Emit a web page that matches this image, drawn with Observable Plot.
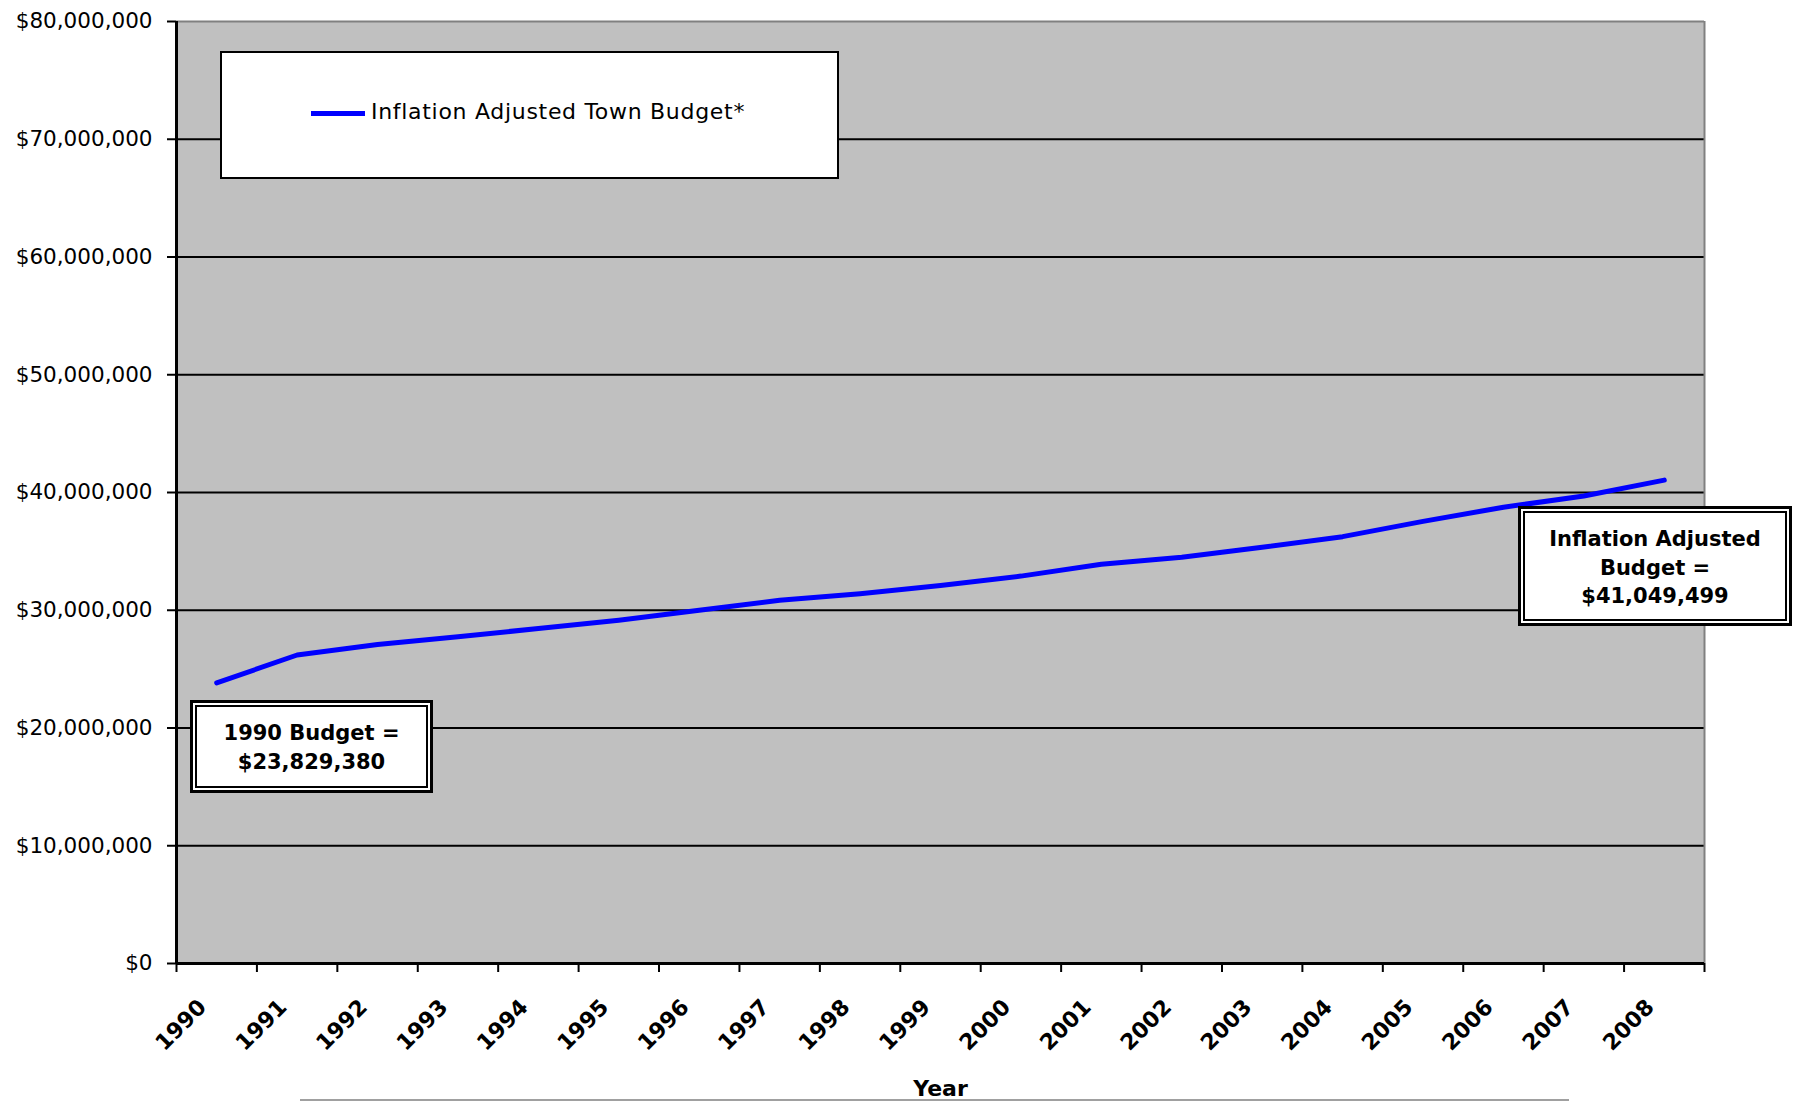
<!DOCTYPE html>
<html>
<head>
<meta charset="utf-8">
<script src="https://cdn.jsdelivr.net/npm/d3@7"></script>
<script src="https://cdn.jsdelivr.net/npm/@observablehq/plot@0.6"></script>
<style>
  html, body { margin: 0; padding: 0; background: #fff; overflow: hidden; }
  #wrap { position: relative; width: 1793px; height: 1102px; font-family: "DejaVu Sans", sans-serif; }
  #wrap svg { position: absolute; left: 0; top: 0; overflow: visible; }
  .legend { position: absolute; left: 220px; top: 51px; width: 619px; height: 128px; box-sizing: border-box;
            border: 2px solid #000; background: #fff; }
  .legend .swatch { position: absolute; left: 89px; top: 58px; width: 54px; height: 5px; background: #0000ff; }
  .legend .label { position: absolute; left: 149px; top: 46px; font-size: 22px; line-height: 26px; letter-spacing: 0.7px; color: #000; white-space: nowrap; }
  .note { position: absolute; box-sizing: border-box; border: 3px solid #000; padding: 2px; background: #fff; }
  .note .inner { width: 100%; height: 100%; box-sizing: border-box; border: 2px solid #000; }
  .note .txt { position: absolute; left: 0; right: 0; text-align: center; font-weight: bold; font-size: 21px; line-height: 28.6px; color: #000; white-space: nowrap; }
  .bottomline { position: absolute; left: 300px; top: 1099px; width: 1269px; height: 2px; background: #a0a0a0; }
</style>
</head>
<body>
<div id="wrap"></div>
<script>
// ---- data ----
const years = ["1990","1991","1992","1993","1994","1995","1996","1997","1998","1999",
               "2000","2001","2002","2003","2004","2005","2006","2007","2008"];
const budget = [23829380, 26200000, 27100000, 27750000, 28450000, 29150000, 30000000, 30850000,
                31400000, 32100000, 32900000, 33900000, 34500000, 35350000, 36250000, 37550000,
                38750000, 39700000, 41049499];
const yTicks = [0, 10000000, 20000000, 30000000, 40000000, 50000000, 60000000, 70000000, 80000000];
const legendLabel = "Inflation Adjusted Town Budget*";
const noteStart = ["1990 Budget =", "$23,829,380"];
const noteEnd = ["Inflation Adjusted", "Budget =", "$41,049,499"];
const xAxisTitle = "Year";

// ---- derived ----
const data = years.map((y, i) => ({year: +y, label: y, value: budget[i]}));
const first = +years[0], last = +years[years.length - 1];
const boundaries = d3.range(first - 0.5, last + 1, 1);
const fmt = d3.format("$,");

const chart = Plot.plot({
  width: 1793,
  height: 1102,
  marginLeft: 176,
  marginRight: 89,
  marginTop: 21,
  marginBottom: 139,
  style: {fontFamily: "DejaVu Sans, sans-serif", color: "#000", background: "transparent", overflow: "visible"},
  x: {type: "linear", domain: [first - 0.5, last + 0.5], axis: null, label: null},
  y: {domain: [0, 80000000], axis: null, label: null},
  marks: [
    Plot.frame({fill: "#c0c0c0", stroke: "none"}),
    Plot.ruleY(yTicks.filter(d => d > 0 && d < 80000000), {stroke: "#000", strokeWidth: 2}),
    Plot.ruleY([80000000], {stroke: "#808080", strokeWidth: 2}),
    Plot.ruleX([last + 0.5], {stroke: "#808080", strokeWidth: 2}),
    Plot.line(data, {x: "year", y: "value", stroke: "#0000ff", strokeWidth: 5}),
    Plot.ruleX([first - 0.5], {stroke: "#000", strokeWidth: 3}),
    Plot.ruleY([0], {stroke: "#000", strokeWidth: 3}),
    Plot.axisY({ticks: yTicks, label: null, tickSize: 9, tickPadding: 15, tickFormat: fmt, fontSize: 21.5, strokeWidth: 2, stroke: "#000", fill: "#000"}),
    Plot.axisX({ticks: boundaries, label: null, tickSize: 9, tickFormat: () => "", strokeWidth: 2, stroke: "#000"}),
    Plot.text(data, {x: "year", frameAnchor: "bottom", text: "label", rotate: -45, textAnchor: "end",
                     lineAnchor: "middle", dx: -14, dy: 40, fontWeight: "bold", fontSize: 22, fill: "#000"}),
    Plot.text([xAxisTitle], {frameAnchor: "bottom", dy: 125, lineAnchor: "middle", fontWeight: "bold", fontSize: 22, fill: "#000"})
  ]
});

const wrap = document.getElementById("wrap");
wrap.appendChild(chart);

// legend
const lg = document.createElement("div");
lg.className = "legend";
lg.innerHTML = `<div class="swatch"></div><div class="label"></div>`;
lg.querySelector(".label").textContent = legendLabel;
wrap.appendChild(lg);

function note(lines, left, top, w, h, textTop) {
  const n = document.createElement("div");
  n.className = "note";
  Object.assign(n.style, {left: left + "px", top: top + "px", width: w + "px", height: h + "px"});
  n.innerHTML = `<div class="inner"></div>`;
  const t = document.createElement("div");
  t.className = "txt";
  t.style.top = textTop + "px";
  lines.forEach((s, i) => { if (i) t.appendChild(document.createElement("br")); t.appendChild(document.createTextNode(s)); });
  n.appendChild(t);
  wrap.appendChild(n);
}
note(noteStart, 190, 700, 243, 93, 16);
note(noteEnd, 1518, 506, 274, 120, 16);

const bl = document.createElement("div");
bl.className = "bottomline";
wrap.appendChild(bl);
</script>
</body>
</html>
